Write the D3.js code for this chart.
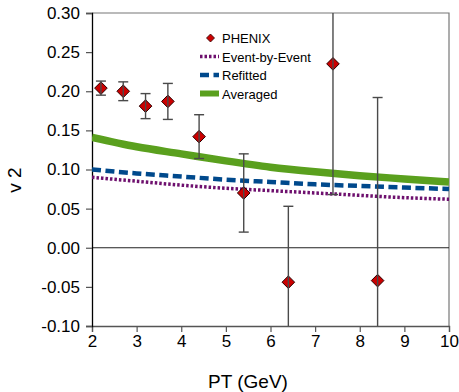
<!DOCTYPE html>
<html>
<head>
<meta charset="utf-8">
<script src="https://cdn.jsdelivr.net/npm/d3@7"></script>
<style>
  body { margin: 0; background: #fff; }
  svg { font-family: Arial, "Liberation Sans", sans-serif; }
</style>
</head>
<body>
<div id="chart"></div>
<script>
// PHENIX measured points
const phenixPt = [2.2, 2.7, 3.2, 3.7, 4.4, 5.4, 6.4, 7.4, 8.4];
const phenixV2 = [0.204, 0.200, 0.181, 0.187, 0.142, 0.070, -0.044, 0.235, -0.042];
const phenixErr = [0.009, 0.012, 0.016, 0.023, 0.028, 0.050, 0.097, 0.167, 0.234];

// model curves
const curvePt = [2, 3, 4, 5, 6, 7, 8, 9, 10];
const eventByEvent = [0.090, 0.085, 0.080, 0.076, 0.073, 0.070, 0.067, 0.064, 0.062];
const refitted = [0.100, 0.095, 0.091, 0.087, 0.084, 0.081, 0.079, 0.077, 0.075];
const averaged = [0.141, 0.129, 0.120, 0.111, 0.103, 0.097, 0.092, 0.088, 0.084];

const xTicks = [2, 3, 4, 5, 6, 7, 8, 9, 10];
const yTicks = [-0.10, -0.05, 0.00, 0.05, 0.10, 0.15, 0.20, 0.25, 0.30];

const width = 459, height = 392;
const margin = { top: 13, right: 10, bottom: 66, left: 92 };

const svg = d3.select('#chart').append('svg')
    .attr('width', width)
    .attr('height', height);

const x = d3.scaleLinear().domain([2, 10]).range([margin.left, width - margin.right]);
const y = d3.scaleLinear().domain([-0.1, 0.3]).range([height - margin.bottom, margin.top]);

// clip for everything inside the plot box
svg.append('clipPath').attr('id', 'plot-clip')
    .append('rect')
    .attr('x', x(2)).attr('y', y(0.3))
    .attr('width', x(10) - x(2)).attr('height', y(-0.1) - y(0.3));

// frame (top and right sides)
svg.append('path')
    .attr('d', `M${x(2)},${y(0.3)}H${x(10)}V${y(-0.1)}`)
    .attr('fill', 'none')
    .attr('stroke', '#777')
    .attr('stroke-width', 1.2);

// zero line
svg.append('line')
    .attr('x1', x(2)).attr('x2', x(10))
    .attr('y1', y(0)).attr('y2', y(0))
    .attr('stroke', '#222')
    .attr('stroke-width', 1);

// axes
const xAxis = svg.append('g')
    .attr('transform', `translate(0,${y(-0.1)})`)
    .call(d3.axisBottom(x).tickValues(xTicks).tickSize(6).tickPadding(3).tickFormat(d3.format('d')));
xAxis.select('.domain').attr('stroke', '#555').attr('stroke-width', 1.3);
xAxis.selectAll('.tick line').attr('stroke', '#555').attr('stroke-width', 1.2);
xAxis.selectAll('.tick text').attr('font-size', 17).attr('fill', '#000');

const yAxis = svg.append('g')
    .attr('transform', `translate(${x(2)},0)`)
    .call(d3.axisLeft(y).tickValues(yTicks).tickSize(6).tickPadding(6).tickFormat(d => d.toFixed(2)));
yAxis.select('.domain').attr('stroke', '#000').attr('stroke-width', 1.3);
yAxis.selectAll('.tick line').attr('stroke', '#555').attr('stroke-width', 1.2);
yAxis.selectAll('.tick text').attr('font-size', 17).attr('fill', '#000');

// axis titles
svg.append('text')
    .attr('x', 248).attr('y', 388)
    .attr('text-anchor', 'middle')
    .attr('font-size', 19)
    .text('PT (GeV)');

svg.append('text')
    .attr('transform', 'translate(21,180) rotate(-90)')
    .attr('text-anchor', 'middle')
    .attr('font-size', 19)
    .text('v 2');

// curves
const plot = svg.append('g').attr('clip-path', 'url(#plot-clip)');
const line = d3.line().x(d => x(d[0])).y(d => y(d[1])).curve(d3.curveMonotoneX);

const series = [
    { name: 'Event-by-Event', values: eventByEvent, color: '#6e106e', width: 3.5, dash: '2.5,2', legendWidth: 3.5 },
    { name: 'Refitted', values: refitted, color: '#00498c', width: 4.5, dash: '9,4.5', legendWidth: 4.5 },
    { name: 'Averaged', values: averaged, color: '#5aa01e', width: 7.5, dash: null, legendWidth: 6 }
];

series.forEach(s => {
    plot.append('path')
        .datum(d3.zip(curvePt, s.values))
        .attr('d', line)
        .attr('fill', 'none')
        .attr('stroke', s.color)
        .attr('stroke-width', s.width)
        .attr('stroke-dasharray', s.dash);
});

const points = phenixPt.map((p, i) => ({ pt: p, v2: phenixV2[i], err: phenixErr[i] }));

// diamonds
const diamond = r => `M0,${-r}L${r},0L0,${r}L${-r},0Z`;
plot.selectAll('path.pt')
    .data(points)
    .join('path')
    .attr('class', 'pt')
    .attr('transform', d => `translate(${x(d.pt)},${y(d.v2)})`)
    .attr('d', diamond(6.3))
    .attr('fill', '#cc0000')
    .attr('stroke', '#2a0000')
    .attr('stroke-width', 1);

// error bars, drawn over the markers
const capHalf = 5;
const bars = plot.append('g').attr('stroke', '#4a4a4a').attr('stroke-width', 1.4);
points.forEach(p => {
    const x0 = x(p.pt), yTop = y(p.v2 + p.err), yBot = y(p.v2 - p.err);
    bars.append('line').attr('x1', x0).attr('x2', x0).attr('y1', yTop).attr('y2', yBot);
    bars.append('line').attr('x1', x0 - capHalf).attr('x2', x0 + capHalf).attr('y1', yTop).attr('y2', yTop);
    bars.append('line').attr('x1', x0 - capHalf).attr('x2', x0 + capHalf).attr('y1', yBot).attr('y2', yBot);
});

// legend
const legend = svg.append('g').attr('font-size', 13);
const lx = 200, ly = 38, lstep = 18.5;

legend.append('path')
    .attr('transform', `translate(${lx + 10.5},${ly})`)
    .attr('d', diamond(4))
    .attr('fill', '#cc0000')
    .attr('stroke', '#2a0000')
    .attr('stroke-width', 0.8);
legend.append('text').attr('x', lx + 22).attr('y', ly + 5).text('PHENIX');

series.forEach((s, i) => {
    const yy = ly + lstep * (i + 1);
    legend.append('line')
        .attr('x1', lx).attr('x2', lx + 19)
        .attr('y1', yy).attr('y2', yy)
        .attr('stroke', s.color)
        .attr('stroke-width', s.legendWidth)
        .attr('stroke-dasharray', s.dash);
    legend.append('text').attr('x', lx + 22).attr('y', yy + 5).text(s.name);
});
</script>
</body>
</html>
